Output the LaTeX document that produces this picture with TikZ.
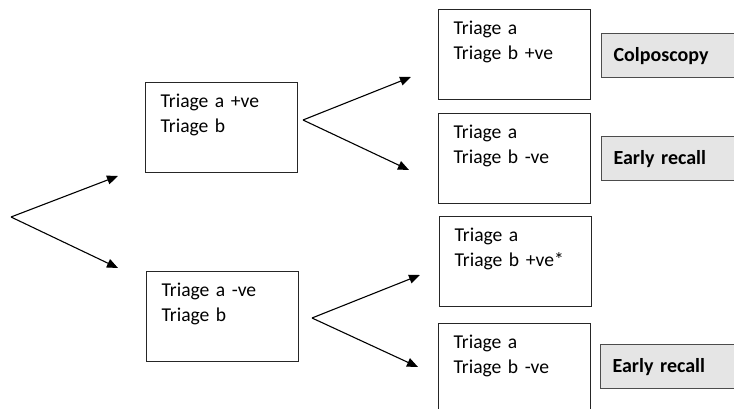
\documentclass[tikz,border=0pt]{standalone}
\usepackage{fontspec}
\setmainfont{Carlito}
\usetikzlibrary{arrows.meta}

\begin{document}
\begin{tikzpicture}[
    x=1pt, y=-1pt,
    >={Triangle[length=11pt, width=9pt]},
    triage/.style={draw=black!85, line width=1.2pt, anchor=north west, align=left,
        text width=122pt, inner xsep=15pt, inner ysep=12pt,
        text height=13pt, text depth=53pt, font=\fontsize{19.6}{25}\selectfont},
    action/.style={draw=black!70, fill=black!10, line width=1.2pt, anchor=north west,
        align=left, text width=122pt, inner xsep=12pt, minimum height=44pt,
        font=\bfseries\fontsize{20}{25}\selectfont},
    every edge/.append style={draw, ->, line width=1.1pt}
]
\useasboundingbox (0,0) rectangle (734,409);

% Boxes :
\node[triage] (pos) at (145,82) {Triage a +ve\\Triage b};
\node[triage] (neg) at (146,271) {Triage a -ve\\Triage b};
\node[triage] (pospos) at (438,9) {Triage a\\Triage b +ve};
\node[triage] (posneg) at (438,113) {Triage a\\Triage b -ve};
\node[triage] (negpos) at (439,216) {Triage a\\Triage b +ve*};
\node[triage] (negneg) at (438,323) {Triage a\\Triage b -ve};

\node[action] (colpo) at (601,33) {Colposcopy};
\node[action] (recallup) at (601,136) {Early recall};
\node[action] (recalldown) at (600,344) {Early recall};

% Forks :
\coordinate (start) at (11,217);
\coordinate (topos) at (118,176);
\coordinate (toneg) at (118,268);
\coordinate (posfork) at (303,120);
\coordinate (topospos) at (411,77);
\coordinate (toposneg) at (409,170);
\coordinate (negfork) at (312,318);
\coordinate (tonegpos) at (420,275);
\coordinate (tonegneg) at (418,367);

% Arrows :
\draw (start) edge (topos) edge (toneg);
\draw (posfork) edge (topospos) edge (toposneg);
\draw (negfork) edge (tonegpos) edge (tonegneg);

\end{tikzpicture}
\end{document}
